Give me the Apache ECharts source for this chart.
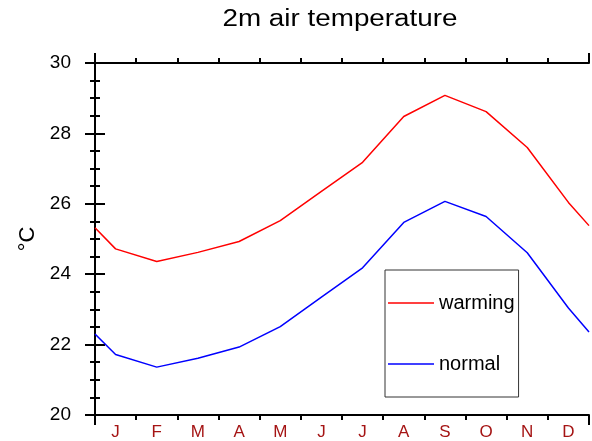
<!DOCTYPE html>
<html>
<head>
<meta charset="utf-8">
<script src="https://cdn.jsdelivr.net/npm/echarts@6/dist/echarts.min.js"></script>
<style>
  html, body { margin: 0; padding: 0; background: #fff; }
  #chart { width: 592px; height: 441px; }
</style>
</head>
<body>
<div id="chart"></div>
<script>
// Monthly labels along the bottom axis
const months = ['J', 'F', 'M', 'A', 'M', 'J', 'J', 'A', 'S', 'O', 'N', 'D'];

// Monthly mean 2m air temperature (°C)
const warming = [24.72, 24.36, 24.62, 24.93, 25.52, 26.35, 27.18, 28.48, 29.08, 28.62, 27.60, 26.04];
const normal  = [21.72, 21.36, 21.61, 21.93, 22.51, 23.35, 24.18, 25.47, 26.07, 25.64, 24.61, 23.04];

// Values at the left and right edges of the year axis
const warmingEdges = [25.32, 25.38];
const normalEdges  = [22.30, 22.36];

// Y axis ticks
const yMin = 20, yMax = 30, yStep = 2;

const FONT = '"Liberation Sans", Arial, Helvetica, sans-serif';

// Month i sits in the middle of its band [i, i+1]
function toPoints(values, edges) {
  const pts = [[0, edges[0]]];
  values.forEach((v, i) => pts.push([i + 0.5, v]));
  pts.push([months.length, edges[1]]);
  return pts;
}

const frameAxis = (position) => ({
  type: 'value',
  position: position,
  min: 0,
  max: months.length,
  interval: months.length,
  axisLine: { show: true, lineStyle: { color: '#000', width: 2 } },
  axisTick: { show: true, inside: false, length: 10, lineStyle: { color: '#000', width: 2 } },
  minorTick: { show: true, splitNumber: months.length, length: 5, lineStyle: { color: '#000', width: 2 } },
  axisLabel: { show: false },
  splitLine: { show: false }
});

const frameYAxis = (position, withLabels) => ({
  type: 'value',
  position: position,
  min: yMin,
  max: yMax,
  interval: yStep,
  name: withLabels ? '°C' : '',
  nameLocation: 'middle',
  nameRotate: 90,
  nameGap: 56,
  nameTextStyle: { fontFamily: FONT, fontSize: 22, color: '#000' },
  axisLine: { show: true, lineStyle: { color: '#000', width: 2 } },
  axisTick: { show: true, inside: false, length: 10, lineStyle: { color: '#000', width: 2 } },
  minorTick: { show: true, splitNumber: 4, length: 5, lineStyle: { color: '#000', width: 2 } },
  axisLabel: { show: withLabels, fontFamily: FONT, fontSize: 19, color: '#000', margin: 24 },
  splitLine: { show: false }
});

const chart = echarts.init(document.getElementById('chart'), null, { renderer: 'canvas' });

chart.setOption({
  animation: false,
  backgroundColor: '#fff',
  grid: { left: 95, right: 3, top: 63, bottom: 24, containLabel: false },
  graphic: [{
    type: 'text',
    x: 340,
    y: 20,
    scaleX: 1.21,
    style: {
      text: '2m air temperature',
      font: '23px ' + FONT,
      fill: '#000',
      align: 'center',
      verticalAlign: 'middle'
    }
  }],
  legend: {
    orient: 'vertical',
    left: 385,
    top: 270,
    padding: [23, 4, 23, 3],
    itemGap: 41,
    icon: 'rect',
    itemWidth: 46,
    itemHeight: 1.5,
    borderColor: '#333',
    borderWidth: 1,
    textStyle: { fontFamily: FONT, fontSize: 20, color: '#000' },
    data: ['warming', 'normal']
  },
  xAxis: [
    frameAxis('bottom'),
    frameAxis('top'),
    {
      type: 'category',
      position: 'bottom',
      data: months,
      boundaryGap: true,
      axisLine: { show: false },
      axisTick: { show: false },
      axisLabel: { interval: 0, fontFamily: FONT, fontSize: 17, color: '#a51414', margin: 9 },
      splitLine: { show: false }
    }
  ],
  yAxis: [frameYAxis('left', true), frameYAxis('right', false)],
  series: [
    {
      name: 'warming',
      type: 'line',
      xAxisIndex: 0,
      yAxisIndex: 0,
      data: toPoints(warming, warmingEdges),
      symbol: 'none',
      color: '#ff0000',
      lineStyle: { color: '#ff0000', width: 1.5 }
    },
    {
      name: 'normal',
      type: 'line',
      xAxisIndex: 0,
      yAxisIndex: 0,
      data: toPoints(normal, normalEdges),
      symbol: 'none',
      color: '#0000ff',
      lineStyle: { color: '#0000ff', width: 1.5 }
    }
  ]
});
</script>
</body>
</html>
